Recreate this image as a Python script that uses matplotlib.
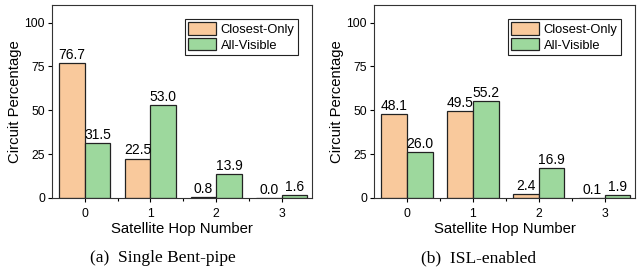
import numpy as np
import matplotlib
matplotlib.use("Agg")
import matplotlib.pyplot as plt

hops = [0, 1, 2, 3]
hop_labels = ["0", "1", "2", "3"]
series_names = ["Closest-Only", "All-Visible"]

bentpipe_closest = [76.7, 22.5, 0.8, 0.0]
bentpipe_visible = [31.5, 53.0, 13.9, 1.6]
isl_closest = [48.1, 49.5, 2.4, 0.1]
isl_visible = [26.0, 55.2, 16.9, 1.9]

captions = ["(a)  Single Bent-pipe", "(b)  ISL-enabled"]

orange = "#F9C99C"
green = "#9DD89D"

plt.rcParams["font.family"] = ["Liberation Sans", "DejaVu Sans"]

fig = plt.figure(figsize=(6.4, 2.71), dpi=100)
ax1 = fig.add_axes([52 / 640, 1 - 198 / 271, 260 / 640, 193 / 271])
ax2 = fig.add_axes([374 / 640, 1 - 198 / 271, 261 / 640, 193 / 271])

w = 0.39
x = np.array(hops)
cap_x = [163 / 640, 479 / 640]
for i, (ax, closest, visible) in enumerate([(ax1, bentpipe_closest, bentpipe_visible),
                                            (ax2, isl_closest, isl_visible)]):
    b1 = ax.bar(x - w / 2, closest, w, color=orange, edgecolor="#222222", linewidth=0.9,
                label=series_names[0])
    b2 = ax.bar(x + w / 2, visible, w, color=green, edgecolor="#222222", linewidth=0.9,
                label=series_names[1])
    for bars, vals in [(b1, closest), (b2, visible)]:
        for rect, v in zip(bars, vals):
            ax.text(rect.get_x() + rect.get_width() / 2, v + 0.6, f"{v:.1f}",
                    ha="center", va="bottom", fontsize=10)
    ax.set_xlim(-0.5, 3.46)
    ax.set_ylim(0, 110)
    ax.set_yticks([0, 25, 50, 75, 100])
    ax.set_xticks(hops)
    ax.set_xticklabels(hop_labels)
    ax.set_xticks(x[:-1] + 0.5, minor=True)
    ax.tick_params(axis="both", labelsize=8.8, length=3, width=0.8, pad=2)
    ax.tick_params(axis="x", which="both", pad=4)
    ax.tick_params(axis="x", which="minor", length=2, width=0.8)
    ax.set_xlabel("Satellite Hop Number", fontsize=10.7, labelpad=1.5)
    ax.set_ylabel("Circuit Percentage", fontsize=10.7, labelpad=2)
    for s in ax.spines.values():
        s.set_linewidth(0.8)
        s.set_color("#333333")
    leg = ax.legend(loc="upper right", fontsize=9.3, fancybox=False, edgecolor="#222222",
                    framealpha=1, borderaxespad=1.1, handlelength=2.2, handleheight=1.1,
                    handletextpad=0.35, borderpad=0.25, labelspacing=0.15)
    leg.get_frame().set_linewidth(0.8)
    fig.text(cap_x[i], 1 - 258 / 271, captions[i], ha="center", va="center",
             fontsize=12.5, family=["Liberation Serif", "DejaVu Serif"])

fig.savefig("out.png", dpi=100)
